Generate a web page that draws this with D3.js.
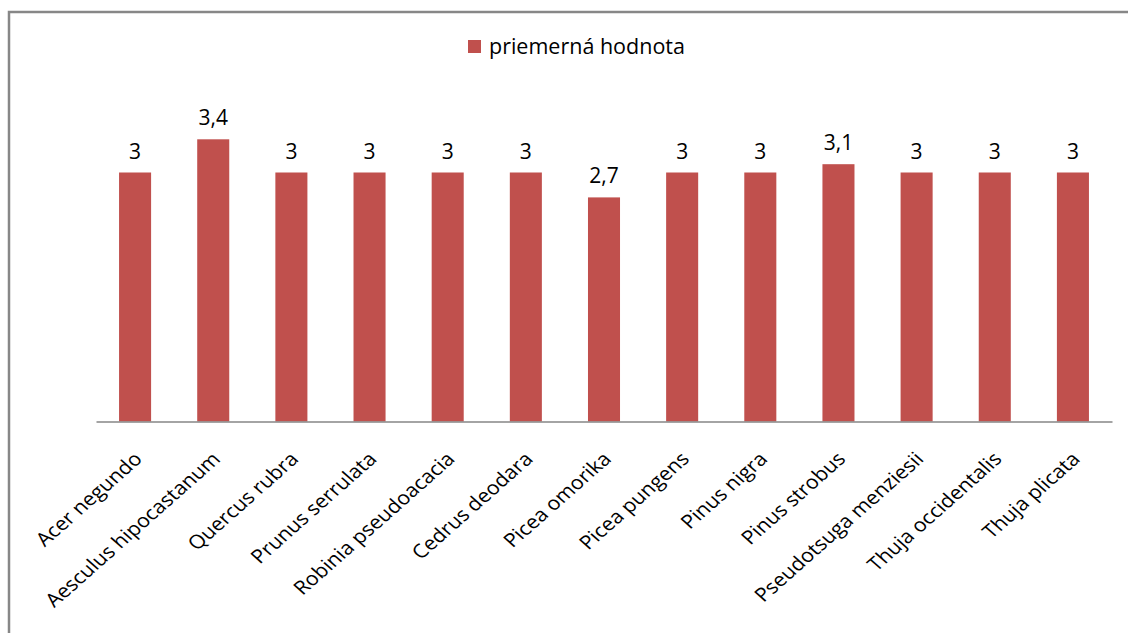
<!DOCTYPE html>
<html>
<head>
<meta charset="utf-8">
<script src="https://cdn.jsdelivr.net/npm/d3@7"></script>
<style>
  html, body { margin: 0; padding: 0; background: #fff; }
  svg { display: block; font-family: "Open Sans", sans-serif; }
</style>
</head>
<body>
<svg id="chart" width="1128" height="633"></svg>
<script>
// Average rating per tree species
const categories = [
  "Acer negundo", "Aesculus hipocastanum", "Quercus rubra", "Prunus serrulata",
  "Robinia pseudoacacia", "Cedrus deodara", "Picea omorika", "Picea pungens",
  "Pinus nigra", "Pinus strobus", "Pseudotsuga menziesii", "Thuja occidentalis",
  "Thuja plicata"
];
const values = [3, 3.4, 3, 3, 3, 3, 2.7, 3, 3, 3.1, 3, 3, 3];
const seriesName = "priemerná hodnota";

const barColor = "#C0504D";
const svg = d3.select("#chart");

// outer frame (only top and left edges fall inside the view)
svg.append("rect")
  .attr("x", 9).attr("y", 12)
  .attr("width", 1200).attr("height", 700)
  .attr("fill", "none").attr("stroke", "#878787").attr("stroke-width", 2.5);

const x = d3.scaleBand().domain(categories).range([96, 1112]).paddingInner(0.59).paddingOuter(0.295);
const y = d3.scaleLinear().domain([0, 4]).range([421.5, 89.5]);

// bars
svg.append("g").selectAll("rect").data(values).join("rect")
  .attr("x", (d, i) => x(categories[i]))
  .attr("width", x.bandwidth())
  .attr("y", d => y(d))
  .attr("height", d => y(0) - y(d))
  .attr("fill", barColor);

// value labels
const fmt = d => String(d).replace(".", ",");
svg.append("g").selectAll("text").data(values).join("text")
  .attr("x", (d, i) => x(categories[i]) + x.bandwidth() / 2)
  .attr("y", d => y(d) - 14)
  .attr("text-anchor", "middle")
  .attr("font-size", 21)
  .attr("fill", "#000")
  .text(fmt);

// category axis, labels slanted and slightly widened
const axis = svg.append("g").attr("transform", `translate(0,${y(0)})`)
  .call(d3.axisBottom(x).tickSize(0).tickPadding(0));
axis.select(".domain").attr("stroke", "#868686").attr("stroke-width", 1.5);
axis.selectAll("text")
  .attr("font-size", 19)
  .attr("font-family", "'Open Sans', sans-serif")
  .attr("fill", "#000")
  .attr("text-anchor", "end")
  .attr("dy", "0.35em")
  .attr("transform", "translate(3,34) scale(1.13,1) rotate(-45)");

// legend
const legend = svg.append("g").attr("transform", "translate(468,40)");
legend.append("rect").attr("width", 13).attr("height", 13).attr("fill", barColor);
legend.append("text").attr("x", 21).attr("y", 14)
  .attr("font-size", 21.5).attr("fill", "#000").text(seriesName);
</script>
</body>
</html>
